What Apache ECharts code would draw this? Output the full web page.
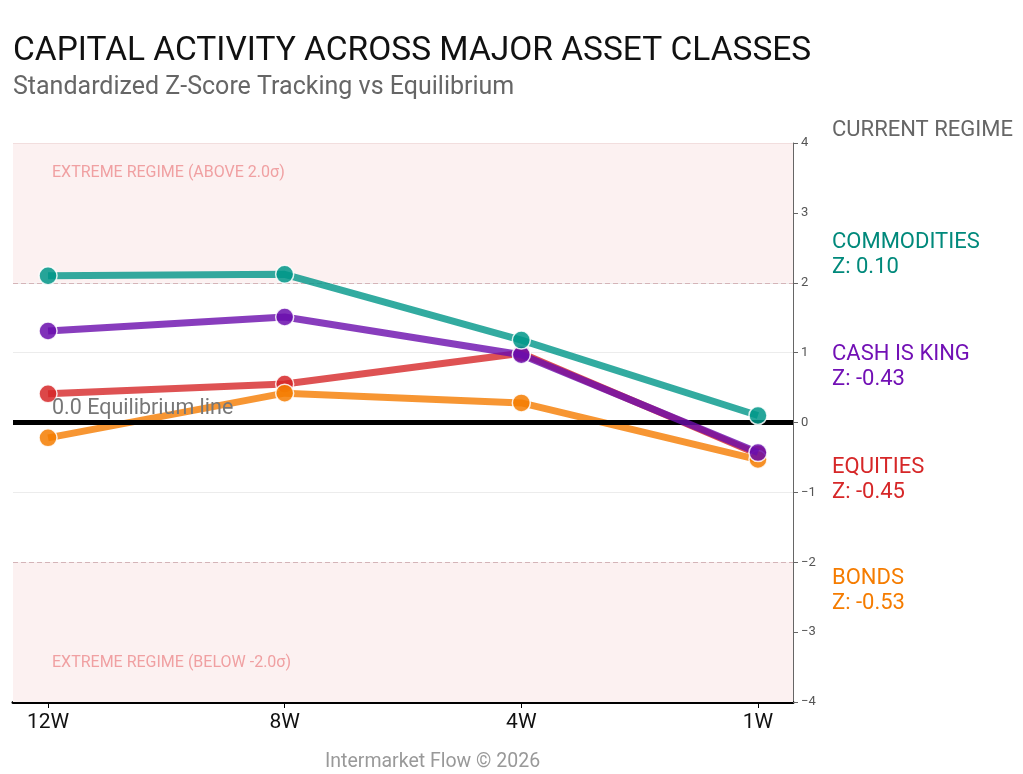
<!DOCTYPE html>
<html><head><meta charset="utf-8">
<script src="https://cdn.jsdelivr.net/npm/echarts@6/dist/echarts.min.js"></script>
<style>html,body{margin:0;padding:0;background:#fff}#c{width:1023px;height:774px}</style>
</head><body><div id="c"></div>
<script>
const categories = ['12W', '8W', '4W', '1W'];
const commodities = [2.10, 2.12, 1.18, 0.10];
const cashIsKing = [1.31, 1.51, 0.97, -0.43];
const equities = [0.41, 0.55, 0.99, -0.45];
const bonds = [-0.22, 0.42, 0.28, -0.53];
const yTicks = [-4, -3, -2, -1, 0, 1, 2, 3, 4];

const F = 'Roboto, "Noto Sans", sans-serif';
const seriesDefs = [
  { name: 'EQUITIES', data: equities, color: '#d62728', label: '#d62728' },
  { name: 'BONDS', data: bonds, color: '#f57c00', label: '#f57c00' },
  { name: 'CASH IS KING', data: cashIsKing, color: '#6a0dad', label: '#7210b5' },
  { name: 'COMMODITIES', data: commodities, color: '#009688', label: '#00897b' }
];

const chart = echarts.init(document.getElementById('c'), null, { renderer: 'canvas' });

const series = seriesDefs.map((s, i) => ({
  type: 'line', name: s.name,
  data: s.data.map((v, k) => [k, v]),
  symbol: 'circle', symbolSize: 18,
  z: 3 + i,
  lineStyle: { color: s.color, width: 7, opacity: 0.8 },
  itemStyle: { color: s.color, borderColor: '#fff', borderWidth: 1.5, opacity: 0.85 },
  emphasis: { disabled: true },
  animation: false
}));

series.unshift({
  type: 'line', data: [], z: 1, animation: false,
  markArea: {
    silent: true,
    itemStyle: { color: '#fcf1f1' },
    label: { show: true, color: '#f0a0a2', fontFamily: F, fontSize: 16 },
    data: [
      [{ yAxis: 2, name: 'EXTREME REGIME (ABOVE 2.0σ)', label: { position: 'insideTopLeft', offset: [34, 17] } }, { yAxis: 4 }],
      [{ yAxis: -4, name: 'EXTREME REGIME (BELOW -2.0σ)', label: { position: 'insideBottomLeft', offset: [34, -26] } }, { yAxis: -2 }]
    ]
  },
  markLine: {
    silent: true, symbol: 'none', animation: false,
    data: [
      { yAxis: 4, lineStyle: { color: '#f2dede', type: 'solid', width: 1 }, label: { show: false } },
      { yAxis: 2, lineStyle: { color: '#d4b4b8', type: [5, 3], width: 1 }, label: { show: false } },
      { yAxis: -2, lineStyle: { color: '#d4b4b8', type: [5, 3], width: 1 }, label: { show: false } },
      { yAxis: 0, lineStyle: { color: '#000', type: 'solid', width: 5 },
        label: { show: true, position: 'insideStartTop', formatter: '0.0 Equilibrium line', color: '#777', fontFamily: F, fontSize: 21.5, distance: [39, 3] } }
    ]
  }
});

const labelY = [240, 352, 465, 576];
const rightOrder = ['COMMODITIES', 'CASH IS KING', 'EQUITIES', 'BONDS'];
const graphics = [{
  type: 'text', left: 832, top: 119,
  style: { text: 'CURRENT REGIME', fill: '#666', font: '22px ' + F }
}];
rightOrder.forEach((n, i) => {
  const s = seriesDefs.find(d => d.name === n);
  const last = s.data[s.data.length - 1];
  graphics.push({
    type: 'text', left: 832, top: labelY[i] - 10,
    style: { text: n + '\nZ: ' + last.toFixed(2), fill: s.label, font: '22px ' + F, lineHeight: 25 }
  });
});

chart.setOption({
  animation: false,
  backgroundColor: '#fff',
  title: {
    left: 8, top: 30,
    text: 'CAPITAL ACTIVITY ACROSS MAJOR ASSET CLASSES',
    subtext: 'Standardized Z-Score Tracking vs Equilibrium',
    itemGap: 6,
    textStyle: { fontFamily: F, fontSize: 33.5, fontWeight: 'normal', color: '#111' },
    subtextStyle: { fontFamily: F, fontSize: 25, color: '#666' }
  },
  grid: { left: 13, right: 230, top: 143, bottom: 72, containLabel: false },
  xAxis: {
    type: 'value', min: -0.148, max: 3.148,
    axisLine: { show: true, onZero: false, lineStyle: { color: '#000', width: 3 } },
    axisTick: { show: true, customValues: [0, 1, 2, 3], length: 6, lineStyle: { color: '#000', width: 1 } },
    axisLabel: { customValues: [0, 1, 2, 3], formatter: v => categories[Math.round(v)], color: '#111', fontFamily: F, fontSize: 21, margin: 10 },
    splitLine: { show: false }
  },
  yAxis: {
    type: 'value', position: 'right', min: -4, max: 4, interval: 1,
    axisLine: { show: true, onZero: false, lineStyle: { color: '#666', width: 1 } },
    axisTick: { show: true, length: 5, lineStyle: { color: '#666' } },
    axisLabel: { color: '#555', fontFamily: F, fontSize: 13, margin: 8,
      formatter: v => (yTicks.includes(v) ? (v < 0 ? '\u2212' + Math.abs(v) : String(v)) : '') },
    splitLine: { show: true, lineStyle: { color: '#ececec', width: 1 } }
  },
  graphic: graphics.concat([{
    type: 'text', left: 325, top: 752,
    style: { text: 'Intermarket Flow \u00a9 2026', fill: '#999', font: '19.5px ' + F }
  }]),
  series: series
});
</script></body></html>
